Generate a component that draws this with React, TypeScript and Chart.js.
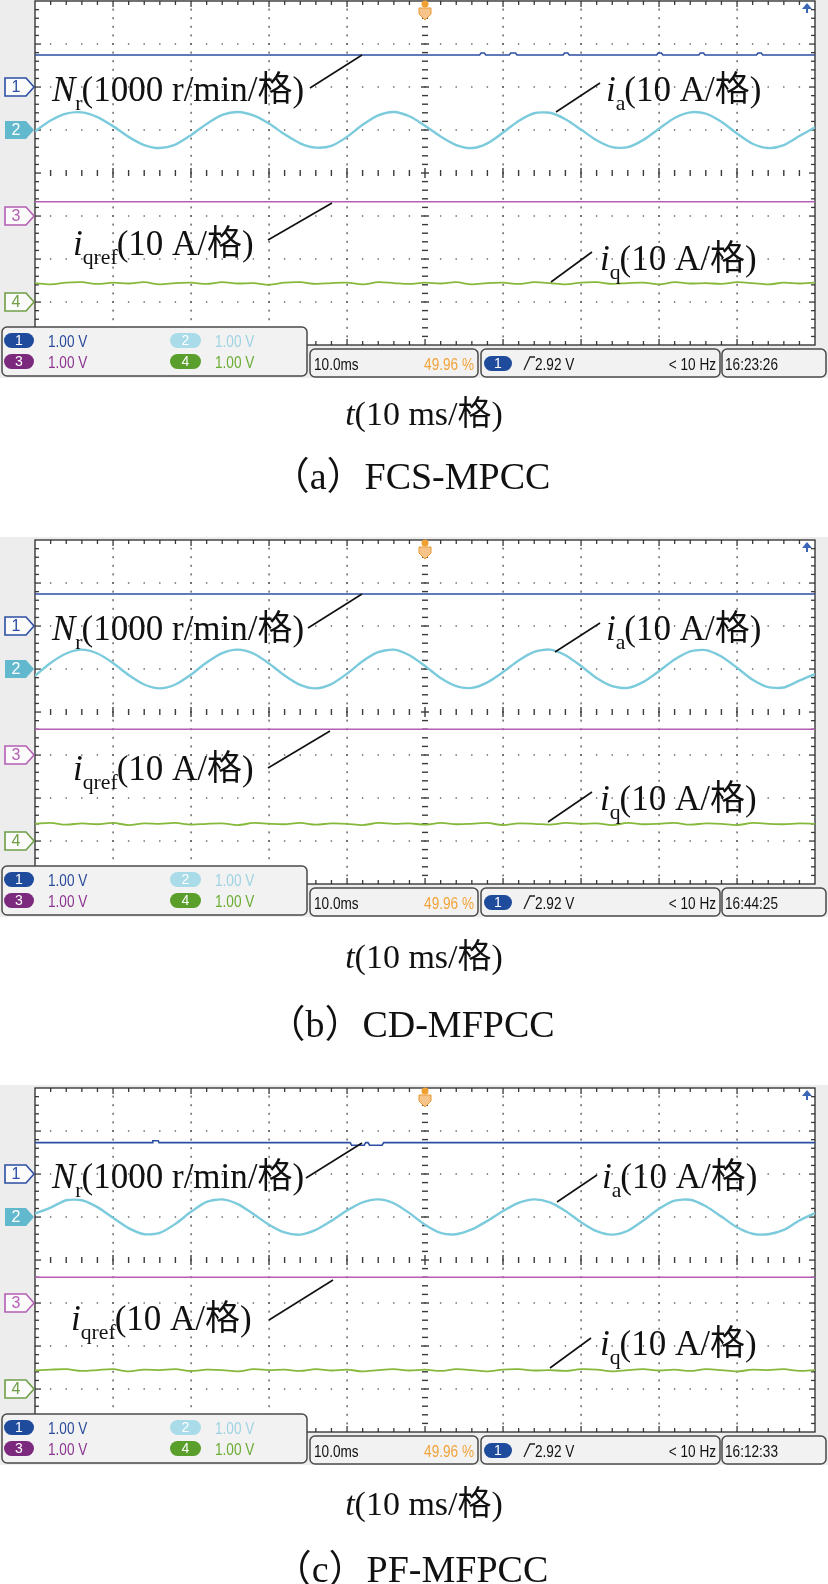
import React, { useEffect, useRef } from "react";
import { Chart, registerables } from "chart.js";
Chart.register(...registerables);

// ---------- data ----------
// time axis: 10 ms / division, 10 divisions
const timeMs = [0, 2, 4, 6, 8, 10, 12, 14, 16, 18, 20, 22, 24, 26, 28, 30, 32, 34, 36, 38, 40, 42, 44, 46, 48, 50, 52, 54, 56, 58, 60, 62, 64, 66, 68, 70, 72, 74, 76, 78, 80, 82, 84, 86, 88, 90, 92, 94, 96, 98, 100];

// phase current ia (A), 10 A/div
const iaA = [-0.3, 2.2, 3.8, 4.1, 3.0, 0.9, -1.6, -3.5, -4.2, -3.4, -1.2, 1.4, 3.5, 4.2, 3.4, 1.5, -1.0, -3.1, -4.1, -3.7, -1.6, 1.2, 3.4, 4.2, 3.2, 1.0, -1.5, -3.5, -4.2, -3.1, -0.6, 2.1, 3.9, 4.0, 2.5, 0.1, -2.4, -4.0, -4.0, -2.3, 0.3, 2.8, 4.1, 3.8, 1.9, -0.8, -3.2, -4.2, -3.5, -1.4, 0.6];
const iaB = [-1.6, 1.4, 3.6, 4.5, 3.6, 1.4, -1.4, -3.6, -4.5, -3.6, -1.3, 1.5, 3.7, 4.5, 3.6, 1.3, -1.5, -3.7, -4.5, -3.5, -1.1, 1.8, 3.9, 4.5, 3.2, 0.7, -2.1, -4.0, -4.4, -3.1, -0.7, 2.0, 4.0, 4.5, 3.2, 0.7, -2.1, -4.0, -4.4, -3.0, -0.5, 2.2, 4.1, 4.4, 2.9, 0.3, -2.5, -4.2, -4.3, -2.7, -1.2];
const iaC = [0.8, 2.2, 3.9, 3.9, 2.3, -0.2, -2.6, -4.0, -3.7, -1.6, 1.2, 3.5, 4.1, 3.0, 0.7, -1.8, -3.6, -4.1, -3.0, -0.9, 1.5, 3.4, 4.1, 3.2, 0.9, -1.8, -3.7, -4.0, -2.9, -0.9, 1.4, 3.3, 4.1, 3.4, 1.4, -1.2, -3.3, -4.1, -3.2, -0.8, 1.9, 3.8, 4.0, 2.5, 0.1, -2.4, -3.9, -4.0, -3.0, -0.8, 0.9];

// q-axis current iq (A), 10 A/div
const iqA = [4.4, 4.1, 4.5, 4.6, 4.2, 4.5, 4.3, 4.6, 4.1, 4.4, 4.5, 4.2, 4.6, 4.3, 4.4, 4.0, 4.5, 4.6, 4.2, 4.4, 4.5, 4.1, 4.6, 4.4, 4.2, 4.5, 4.3, 4.6, 4.1, 4.4, 4.5, 4.2, 4.6, 4.4, 4.1, 4.5, 4.6, 4.2, 4.4, 4.5, 4.1, 4.6, 4.3, 4.4, 4.2, 4.6, 4.4, 4.1, 4.5, 4.3, 4.5];
const iqB = [4.0, 4.2, 3.8, 4.1, 3.9, 4.2, 3.7, 4.1, 4.0, 4.2, 3.8, 4.0, 4.1, 3.7, 4.2, 4.0, 3.9, 4.2, 3.8, 4.1, 4.0, 3.7, 4.2, 4.0, 4.1, 3.8, 4.2, 3.9, 4.0, 4.2, 3.7, 4.1, 4.0, 3.8, 4.2, 4.0, 4.1, 3.7, 4.2, 3.9, 4.0, 4.2, 3.8, 4.1, 4.0, 3.7, 4.2, 4.0, 3.9, 4.1, 4.0];
const iqC = [4.3, 4.5, 4.6, 4.2, 4.4, 4.6, 4.1, 4.5, 4.4, 4.6, 4.2, 4.5, 4.4, 4.1, 4.6, 4.4, 4.5, 4.2, 4.6, 4.3, 4.5, 4.1, 4.4, 4.6, 4.3, 4.5, 4.2, 4.6, 4.4, 4.1, 4.5, 4.6, 4.3, 4.4, 4.2, 4.6, 4.5, 4.1, 4.4, 4.6, 4.3, 4.5, 4.2, 4.6, 4.4, 4.1, 4.5, 4.4, 4.6, 4.2, 4.4];

// q-axis current reference iqref (A), 10 A/div
const iqrefTime = [0, 100];
const iqrefA = [3.3, 3.3];
const iqrefB = [6.0, 6.0];
const iqrefC = [6.0, 6.0];

// speed Nr (r/min), 1000 r/min/div
const nrTimeA = [0, 57.0, 57.2, 57.6, 57.8, 60.8, 61.0, 61.6, 61.8, 67.7, 67.9, 68.3, 68.5, 79.7, 79.9, 80.3, 80.5, 85.1, 85.3, 85.7, 85.9, 92.5, 92.7, 93.1, 93.3, 100];
const nrA = [745, 745, 790, 790, 745, 745, 790, 790, 745, 745, 790, 790, 745, 745, 790, 790, 745, 745, 790, 790, 745, 745, 790, 790, 745, 745];
const nrTimeB = [0, 100];
const nrB = [745, 745];
const nrTimeC = [0, 15.0, 15.1, 15.8, 15.9, 40.4, 40.6, 42.2, 42.4, 42.7, 42.9, 44.5, 44.7, 100];
const nrC = [730, 730, 775, 775, 730, 730, 670, 670, 730, 730, 670, 670, 730, 730];

// texts
const captions = ["（a）FCS-MPCC", "（b）CD-MFPCC", "（c）PF-MFPCC"];
const clockTimes = ["16:23:26", "16:44:25", "16:12:33"];
const channelScales = ["1.00 V", "1.00 V", "1.00 V", "1.00 V"];
const timebase = "10.0ms";
const triggerPos = "49.96 %";
const triggerLevel = "2.92 V";
const freqText = "< 10 Hz";

// ---------- layout / style ----------
const W = 828;
const COL1 = "#2d4fa3";
const COL2 = "#7ccbdc";
const COL3 = "#b45fb4";
const COL4 = "#86b93b";

type Part = { t: string; it?: boolean; sub?: boolean };
const lblNr: Part[] = [{ t: "N", it: true }, { t: "r", sub: true }, { t: "(1000 r/min/格)" }];
const lblIa: Part[] = [{ t: "i", it: true }, { t: "a", sub: true }, { t: "(10 A/格)" }];
const lblIqref: Part[] = [{ t: "i", it: true }, { t: "qref", sub: true }, { t: "(10 A/格)" }];
const lblIq: Part[] = [{ t: "i", it: true }, { t: "q", sub: true }, { t: "(10 A/格)" }];

type Panel = {
  top: number; h: number; T: number;
  ia: number[]; iq: number[]; iqref: number[]; nrT: number[]; nr: number[];
  leaders: number[][]; labels: number[][]; tY: number; capY: number;
};

const panels: Panel[] = [
  {
    top: 0, h: 540, T: 1, ia: iaA, iq: iqA, iqref: iqrefA, nrT: nrTimeA, nr: nrA,
    leaders: [[310, 87, 362, 54], [556, 111, 600, 82], [268, 239, 332, 202], [551, 281, 592, 251]],
    labels: [[52, 100], [606, 100], [73, 254], [600, 269]], tY: 415, capY: 478,
  },
  {
    top: 537, h: 548, T: 3, ia: iaB, iq: iqB, iqref: iqrefB, nrT: nrTimeB, nr: nrB,
    leaders: [[308, 88, 362, 54], [555, 112, 600, 83], [268, 228, 330, 191], [548, 282, 592, 252]],
    labels: [[52, 100], [606, 100], [73, 240], [600, 270]], tY: 419, capY: 487,
  },
  {
    top: 1085, h: 499, T: 3, ia: iaC, iq: iqC, iqref: iqrefC, nrT: nrTimeC, nr: nrC,
    leaders: [[306, 90, 362, 55], [557, 114, 597, 87], [269, 232, 333, 192], [550, 280, 591, 250]],
    labels: [[52, 100], [602, 100], [71, 242], [600, 267]], tY: 418, capY: 484,
  },
];

const SERIF = '"Liberation Serif", "Times New Roman", "Noto Sans CJK SC", serif';
const SANS = '"Liberation Sans", Arial, sans-serif';

function rich(ctx: CanvasRenderingContext2D, x: number, y: number, parts: Part[], size: number) {
  let cx = x;
  ctx.textAlign = "left";
  ctx.textBaseline = "alphabetic";
  ctx.fillStyle = "#111";
  for (const p of parts) {
    const fs = p.sub ? size * 0.62 : size;
    ctx.font = `${p.it ? "italic " : ""}${fs}px ${SERIF}`;
    ctx.fillText(p.t, cx, y + (p.sub ? size * 0.27 : 0));
    cx += ctx.measureText(p.t).width - (p.sub ? 1 : 0);
  }
}

function narrow(ctx: CanvasRenderingContext2D, text: string, x: number, y: number, color: string, align: "left" | "right" = "left", size = 17) {
  ctx.save();
  ctx.font = `${size}px ${SANS}`;
  ctx.fillStyle = color;
  ctx.textBaseline = "alphabetic";
  ctx.textAlign = "left";
  const sx = 0.8;
  const w = ctx.measureText(text).width * sx;
  const x0 = align === "right" ? x - w : x;
  ctx.translate(x0, y);
  ctx.scale(sx, 1);
  ctx.fillText(text, 0, 0);
  ctx.restore();
}

function badge(ctx: CanvasRenderingContext2D, x: number, y: number, w: number, h: number, color: string, n: string) {
  ctx.beginPath();
  ctx.roundRect(x, y, w, h, h / 2);
  ctx.fillStyle = color;
  ctx.fill();
  ctx.fillStyle = "#fff";
  ctx.font = `14px ${SANS}`;
  ctx.textAlign = "center";
  ctx.textBaseline = "middle";
  ctx.fillText(n, x + w / 2, y + h / 2 + 1);
}

function box(ctx: CanvasRenderingContext2D, x: number, y: number, w: number, h: number) {
  ctx.beginPath();
  ctx.roundRect(x, y, w, h, 5);
  ctx.fillStyle = "#f2f2f2";
  ctx.fill();
  ctx.strokeStyle = "#4a4a4a";
  ctx.lineWidth = 1.5;
  ctx.stroke();
}

function chMarker(ctx: CanvasRenderingContext2D, y: number, n: string, color: string, filled: boolean) {
  ctx.beginPath();
  ctx.moveTo(5, y - 9);
  ctx.lineTo(26, y - 9);
  ctx.lineTo(34, y);
  ctx.lineTo(26, y + 9);
  ctx.lineTo(5, y + 9);
  ctx.closePath();
  if (filled) {
    ctx.fillStyle = color;
    ctx.fill();
    ctx.fillStyle = "#fff";
  } else {
    ctx.fillStyle = "#fbfbfb";
    ctx.fill();
    ctx.strokeStyle = color;
    ctx.lineWidth = 1.6;
    ctx.stroke();
    ctx.fillStyle = color;
  }
  ctx.font = `16px ${SANS}`;
  ctx.textAlign = "center";
  ctx.textBaseline = "middle";
  ctx.fillText(n, 16, y + 1);
}

function graticule(ctx: CanvasRenderingContext2D, ca: any) {
  const L = ca.left, R = ca.right, T = ca.top, B = ca.bottom;
  const dx = (R - L) / 10, dy = (B - T) / 8;
  ctx.fillStyle = "#5c5c5c";
  for (let k = 1; k < 10; k++) {
    if (k === 5) continue;
    const x = Math.round(L + k * dx);
    for (let j = 1; j < 40; j++) {
      const y = T + (j * dy) / 5;
      ctx.fillRect(x - 0.6, y - 1, 1.4, 2);
    }
  }
  for (let r = 1; r < 8; r++) {
    if (r === 4) continue;
    const y = Math.round(T + r * dy);
    for (let j = 1; j < 50; j++) {
      const x = L + (j * dx) / 5;
      ctx.fillRect(x - 0.7, y - 0.7, 1.4, 1.4);
    }
  }
  ctx.fillStyle = "#3a3a3a";
  const cx = Math.round(L + 5 * dx);
  for (let j = 1; j < 40; j++) {
    const y = T + (j * dy) / 5;
    const w = j % 5 === 0 ? 8 : 6;
    ctx.fillRect(cx - w / 2, y - 0.7, w, 1.4);
  }
  const cy = Math.round(T + 4 * dy);
  for (let j = 1; j < 50; j++) {
    const x = L + (j * dx) / 5;
    const h = j % 5 === 0 ? 10 : 6;
    ctx.fillRect(x - 0.7, cy - h / 2, 1.4, h);
  }
  for (let j = 1; j < 50; j++) {
    const x = L + (j * dx) / 5;
    const h = j % 5 === 0 ? 6 : 4;
    ctx.fillRect(x - 0.6, T, 1.3, h);
    ctx.fillRect(x - 0.6, B - h, 1.3, h);
  }
  for (let j = 1; j < 40; j++) {
    const y = T + (j * dy) / 5;
    const w = j % 5 === 0 ? 6 : 4;
    ctx.fillRect(L, y - 0.6, w, 1.3);
    ctx.fillRect(R - w, y - 0.6, w, 1.3);
  }
  ctx.strokeStyle = "#2a2a2a";
  ctx.lineWidth = 1.3;
  ctx.strokeRect(L, T, R - L, B - T);
}

function makePlugin(p: Panel, idx: number) {
  return {
    id: "scope" + idx,
    beforeDraw(chart: any) {
      const ctx: CanvasRenderingContext2D = chart.ctx;
      const ca = chart.chartArea;
      ctx.save();
      ctx.fillStyle = "#ffffff";
      ctx.fillRect(0, 0, chart.width, chart.height);
      ctx.fillStyle = "#ededed";
      ctx.fillRect(0, ca.top - 3, W, 380);
      ctx.fillStyle = "#ffffff";
      ctx.fillRect(ca.left, ca.top, ca.right - ca.left, ca.bottom - ca.top);
      graticule(ctx, ca);
      ctx.restore();
    },
    afterDraw(chart: any) {
      const ctx: CanvasRenderingContext2D = chart.ctx;
      const ca = chart.chartArea;
      const T = ca.top;
      const dy = (ca.bottom - ca.top) / 8;
      const cx = ca.left + 5 * (ca.right - ca.left) / 10;
      ctx.save();

      // channel ground markers
      chMarker(ctx, T + 2 * dy, "1", COL1, false);
      chMarker(ctx, T + 3 * dy, "2", "#62b9cd", true);
      chMarker(ctx, T + 5 * dy, "3", COL3, false);
      chMarker(ctx, T + 7 * dy, "4", "#6f9e45", false);

      // trigger position marker
      ctx.fillStyle = "#f0a030";
      ctx.beginPath();
      ctx.arc(cx, T + 3, 3.5, 0, Math.PI * 2);
      ctx.fill();
      ctx.beginPath();
      ctx.moveTo(cx - 6, T + 7);
      ctx.lineTo(cx + 6, T + 7);
      ctx.lineTo(cx + 6, T + 13);
      ctx.lineTo(cx, T + 19);
      ctx.lineTo(cx - 6, T + 13);
      ctx.closePath();
      ctx.fillStyle = "#f6c48a";
      ctx.fill();
      ctx.strokeStyle = "#e9982e";
      ctx.lineWidth = 1;
      ctx.stroke();

      // trigger level arrow (top right)
      ctx.fillStyle = "#3b66b8";
      ctx.beginPath();
      ctx.moveTo(802, T + 8);
      ctx.lineTo(812, T + 8);
      ctx.lineTo(807, T + 2);
      ctx.closePath();
      ctx.fill();
      ctx.fillRect(806, T + 8, 2, 4);

      // status boxes
      box(ctx, 2, T + 326, 305, 49);
      badge(ctx, 4, T + 332, 30, 15, "#1f4b9c", "1");
      badge(ctx, 170, T + 332, 31, 15, "#a9dbe8", "2");
      badge(ctx, 4, T + 353, 30, 15, "#7b2a7e", "3");
      badge(ctx, 170, T + 353, 31, 15, "#5a9e2c", "4");
      narrow(ctx, channelScales[0], 48, T + 346, "#2a4b9a");
      narrow(ctx, channelScales[1], 215, T + 346, "#9fd3e3");
      narrow(ctx, channelScales[2], 48, T + 367, "#8c3590");
      narrow(ctx, channelScales[3], 215, T + 367, "#6aac34");

      box(ctx, 310, T + 348, 168, 28);
      narrow(ctx, timebase, 314, T + 369, "#111");
      narrow(ctx, triggerPos, 474, T + 369, "#f2a33a", "right");

      box(ctx, 481, T + 348, 239, 28);
      badge(ctx, 484, T + 355, 28, 15, "#1f4b9c", "1");
      ctx.strokeStyle = "#222";
      ctx.lineWidth = 1.3;
      ctx.beginPath();
      ctx.moveTo(524, T + 369);
      ctx.lineTo(530, T + 356);
      ctx.lineTo(535, T + 356);
      ctx.stroke();
      narrow(ctx, triggerLevel, 535, T + 369, "#111");
      narrow(ctx, freqText, 716, T + 369, "#111", "right");

      box(ctx, 722, T + 348, 104, 28);
      narrow(ctx, clockTimes[idx], 725, T + 369, "#111");

      // labels and leader lines
      ctx.strokeStyle = "#111";
      ctx.lineWidth = 1.6;
      for (const l of p.leaders) {
        ctx.beginPath();
        ctx.moveTo(l[0], T + l[1]);
        ctx.lineTo(l[2], T + l[3]);
        ctx.stroke();
      }
      const lbls = [lblNr, lblIa, lblIqref, lblIq];
      p.labels.forEach((pos, i) => rich(ctx, pos[0], T + pos[1], lbls[i], 35));

      // captions
      ctx.fillStyle = "#111";
      ctx.textBaseline = "middle";
      const cs = 34;
      ctx.font = `italic ${cs}px ${SERIF}`;
      const tw = ctx.measureText("t").width;
      ctx.font = `${cs}px ${SERIF}`;
      const rest = "(10 ms/格)";
      const rw = ctx.measureText(rest).width;
      const x0 = 424 - (tw + rw) / 2;
      ctx.textAlign = "left";
      ctx.font = `italic ${cs}px ${SERIF}`;
      ctx.fillText("t", x0, T + p.tY);
      ctx.font = `${cs}px ${SERIF}`;
      ctx.fillText(rest, x0 + tw, T + p.tY);
      ctx.font = `38px ${SERIF}`;
      ctx.textAlign = "center";
      ctx.fillText(captions[idx], 411, T + p.capY);
      ctx.restore();
    },
  };
}

function ScopePanel({ p, idx }: { p: Panel; idx: number }) {
  const ref = useRef<HTMLCanvasElement>(null);
  useEffect(() => {
    if (!ref.current) return;
    const ds = (xs: number[], ys: number[], off: number, scale: number) =>
      xs.map((x, i) => ({ x, y: off + ys[i] / scale }));
    const chart = new Chart(ref.current, {
      type: "line",
      data: {
        datasets: [
          { data: ds(p.nrT, p.nr, 2, 1000), borderColor: COL1, borderWidth: 1.6, pointRadius: 0, tension: 0 },
          { data: ds(timeMs, p.ia, 1, 10), borderColor: COL2, borderWidth: 2.4, pointRadius: 0, tension: 0.25 },
          { data: ds(timeMs, p.ia, 1, 10), borderColor: "rgba(35,80,100,0.75)", borderWidth: 1.1, borderDash: [2, 9], pointRadius: 0, tension: 0.25 },
          { data: ds(iqrefTime, p.iqref, -1, 10), borderColor: COL3, borderWidth: 1.6, pointRadius: 0, tension: 0 },
          { data: ds(timeMs, p.iq, -3, 10), borderColor: COL4, borderWidth: 1.8, pointRadius: 0, tension: 0.3 },
        ],
      },
      options: {
        animation: false,
        responsive: false,
        events: [],
        layout: { padding: { left: 35, right: 13, top: p.T, bottom: p.h - p.T - 344 } },
        plugins: { legend: { display: false }, tooltip: { enabled: false } },
        scales: {
          x: { type: "linear", min: 0, max: 100, display: false },
          y: { type: "linear", min: -4, max: 4, display: false },
        },
      },
      plugins: [makePlugin(p, idx)],
    });
    return () => chart.destroy();
  }, [p, idx]);
  return (
    <canvas
      ref={ref}
      width={W}
      height={p.h}
      style={{ position: "absolute", left: 0, top: p.top, width: W, height: p.h, display: "block" }}
    />
  );
}

export default function App() {
  useEffect(() => {
    document.body.style.margin = "0";
    document.body.style.background = "#ffffff";
  }, []);
  return (
    <div style={{ position: "relative", width: W, height: 1584, background: "#fff", overflow: "hidden" }}>
      {panels.map((p, i) => (
        <ScopePanel key={i} p={p} idx={i} />
      ))}
    </div>
  );
}
